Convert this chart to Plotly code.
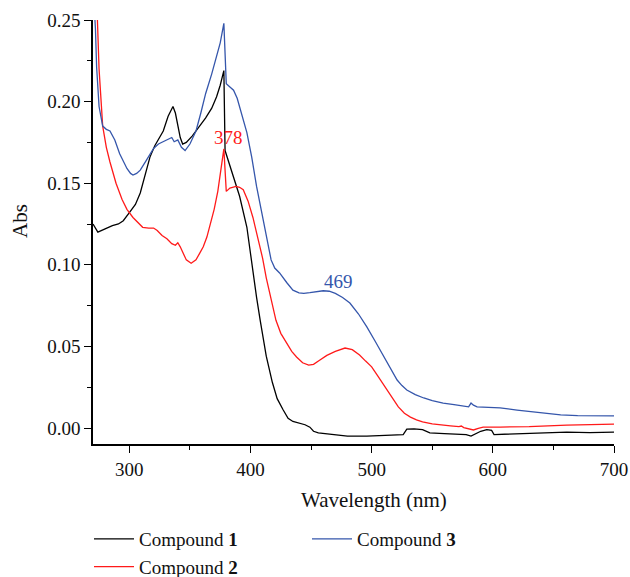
import plotly.graph_objects as go

# ---------------- data ----------------
wl_c1 = [270, 274, 280, 286, 291, 295, 300, 305, 309, 313, 317, 321, 325, 328, 332, 336, 338, 340,
         342, 344, 347, 352, 358, 363, 368, 372, 375, 378, 379, 382, 386, 391, 397, 402, 405, 408,
         413, 418, 422, 427, 431, 435, 441, 445, 449, 452, 456, 468, 480, 496, 510, 526, 529, 535,
         542, 548, 560, 578, 582, 590, 595, 599, 601, 620, 640, 661, 680, 700]
abs_c1 = [0.125, 0.120, 0.122, 0.124, 0.125, 0.127, 0.132, 0.137, 0.144, 0.155, 0.166, 0.173, 0.178,
          0.182, 0.191, 0.197, 0.193, 0.185, 0.178, 0.174, 0.175, 0.179, 0.185, 0.190, 0.196, 0.203,
          0.210, 0.219, 0.170, 0.163, 0.154, 0.142, 0.123, 0.095, 0.080, 0.066, 0.044, 0.028, 0.018,
          0.011, 0.006, 0.004, 0.003, 0.002, 0.0005, -0.002, -0.003, -0.004, -0.005, -0.005, -0.0045,
          -0.004, -0.0007, -0.0005, -0.001, -0.003, -0.0035, -0.004, -0.005, -0.002, -0.001, -0.0015,
          -0.004, -0.0035, -0.003, -0.0025, -0.0028, -0.0025]

wl_c2 = [270, 273, 275, 278, 281, 284, 289, 294, 298, 303, 307, 311, 316, 320, 323, 327, 331, 335,
         338, 340, 342, 344, 347, 351, 355, 358, 361, 364, 367, 370, 373, 376, 378, 380, 383, 388,
         391, 394, 398, 402, 406, 410, 413, 417, 421, 425, 430, 434, 438, 443, 448, 452, 457, 463,
         470, 478, 484, 490, 495, 500, 505, 511, 516, 522, 527, 532, 537, 542, 550, 557, 565, 572,
         574, 576, 580, 584, 588, 592, 606, 630, 661, 680, 700]
abs_c2 = [0.33, 0.255, 0.22, 0.185, 0.172, 0.163, 0.150, 0.140, 0.134, 0.129, 0.126, 0.123, 0.1225,
          0.1225, 0.121, 0.118, 0.116, 0.113, 0.112, 0.1135, 0.111, 0.108, 0.103, 0.101, 0.103, 0.107,
          0.111, 0.117, 0.125, 0.134, 0.145, 0.160, 0.171, 0.145, 0.147, 0.148, 0.1475, 0.146, 0.139,
          0.129, 0.117, 0.104, 0.092, 0.078, 0.066, 0.058, 0.052, 0.047, 0.0435, 0.040, 0.0385, 0.039,
          0.0415, 0.0445, 0.047, 0.049, 0.048, 0.0447, 0.041, 0.0375, 0.032, 0.0252, 0.019, 0.0129,
          0.009, 0.0067, 0.005, 0.0037, 0.0025, 0.0018, 0.0013, 0.0008, 0.0012, 0.0003, -0.0005,
          -0.0012, -0.0002, 0.0006, 0.0006, 0.0009, 0.0018, 0.0021, 0.0024]

wl_c3 = [270, 272, 273, 275, 278, 281, 284, 288, 292, 295, 298, 301, 303, 306, 309, 314, 320, 324,
         328, 332, 335, 337, 340, 343, 346, 350, 355, 359, 363, 368, 372, 375, 378, 380, 383, 386,
         389, 391, 394, 397, 401, 405, 409, 413, 417, 420, 424, 430, 435, 440, 444, 449, 455, 460,
         465, 470, 476, 482, 489, 496, 503, 510, 516, 521, 525, 529, 536, 543, 550, 559, 568, 578,
         580, 582, 584, 587, 595, 606, 620, 633, 645, 656, 670, 685, 700]
abs_c3 = [0.27, 0.245, 0.221, 0.197, 0.185, 0.183, 0.182, 0.1765, 0.168, 0.163, 0.159, 0.156, 0.155,
          0.156, 0.158, 0.164, 0.1713, 0.174, 0.1754, 0.177, 0.178, 0.1754, 0.1765, 0.172, 0.170,
          0.174, 0.182, 0.193, 0.205, 0.217, 0.227, 0.236, 0.248, 0.211, 0.209, 0.207, 0.202, 0.197,
          0.190, 0.181, 0.166, 0.148, 0.133, 0.119, 0.103, 0.098, 0.095, 0.089, 0.0845, 0.0828,
          0.0825, 0.0829, 0.0835, 0.0841, 0.0838, 0.0825, 0.080, 0.0766, 0.070, 0.062, 0.053, 0.0435,
          0.036, 0.0294, 0.026, 0.0233, 0.0205, 0.0184, 0.0168, 0.0153, 0.0143, 0.0135, 0.013, 0.0153,
          0.014, 0.013, 0.0127, 0.0123, 0.011, 0.0098, 0.0088, 0.008, 0.0076, 0.0075, 0.0074]

series_names = ["Compound <b>1</b>", "Compound <b>2</b>", "Compound <b>3</b>"]
x_ticks = [300, 400, 500, 600, 700]
y_ticks = [0.00, 0.05, 0.10, 0.15, 0.20, 0.25]
peak_labels = [(378, "378"), (469, "469")]

FONT = "Liberation Serif"
BLACK, RED, BLUE = "#000000", "#ff1a1a", "#3556ab"

fig = go.Figure()
fig.add_trace(go.Scatter(x=wl_c1, y=abs_c1, mode="lines", name=series_names[0],
                         line=dict(color=BLACK, width=1.3), legend="legend"))
fig.add_trace(go.Scatter(x=wl_c2, y=abs_c2, mode="lines", name=series_names[1],
                         line=dict(color=RED, width=1.3), legend="legend"))
fig.add_trace(go.Scatter(x=wl_c3, y=abs_c3, mode="lines", name=series_names[2],
                         line=dict(color=BLUE, width=1.3), legend="legend2"))

fig.add_annotation(x=381.5, y=0.178, text=peak_labels[0][1], showarrow=False,
                   font=dict(family=FONT, size=19, color=RED), xanchor="center", yanchor="middle")
fig.add_annotation(x=473, y=0.0895, text=peak_labels[1][1], showarrow=False,
                   font=dict(family=FONT, size=19, color=BLUE), xanchor="center", yanchor="middle")

# axis titles
fig.add_annotation(xref="paper", yref="paper", x=(373.5 - 93) / (614 - 93), y=(444 - 500) / (444 - 20),
                   text="Wavelength (nm)", showarrow=False, xanchor="center", yanchor="middle",
                   font=dict(family=FONT, size=21, color="#111"))
fig.add_annotation(xref="paper", yref="paper", x=(20 - 93) / (614 - 93), y=(444 - 221) / (444 - 20),
                   text="Abs", showarrow=False, textangle=-90, xanchor="center", yanchor="middle",
                   font=dict(family=FONT, size=21, color="#111"))

axis_common = dict(showline=True, linecolor="black", linewidth=1.5, ticks="outside", ticklen=7,
                   tickwidth=1.2, tickcolor="black", showgrid=False, zeroline=False, mirror=False,
                   tickfont=dict(family=FONT, size=19, color="#111"))

fig.update_xaxes(range=[270, 700], tickvals=x_ticks, ticktext=[str(v) for v in x_ticks],
                 minor=dict(ticks="outside", ticklen=4, tickwidth=1.2, tickcolor="black",
                            tickvals=[350, 450, 550, 650]),
                 **axis_common)
fig.update_yaxes(range=[-0.0098, 0.25], tickvals=y_ticks, ticktext=[f"{v:.2f}" for v in y_ticks],
                 minor=dict(ticks="outside", ticklen=4, tickwidth=1.2, tickcolor="black",
                            tickvals=[0.025, 0.075, 0.125, 0.175, 0.225]),
                 **axis_common)

legend_font = dict(family=FONT, size=19, color="#111")
fig.update_layout(
    width=630, height=577,
    margin=dict(l=93, r=16, t=20, b=133, autoexpand=False),
    paper_bgcolor="white", plot_bgcolor="white",
    legend=dict(xref="container", yref="container", x=89 / 630, y=1 - 520 / 577,
                xanchor="left", yanchor="top", font=legend_font, bgcolor="rgba(0,0,0,0)",
                itemwidth=40, tracegroupgap=0, orientation="v"),
    legend2=dict(xref="container", yref="container", x=307 / 630, y=1 - 520 / 577,
                 xanchor="left", yanchor="top", font=legend_font, bgcolor="rgba(0,0,0,0)",
                 itemwidth=40, orientation="v"),
    showlegend=True,
)

fig.write_html("out.html")
